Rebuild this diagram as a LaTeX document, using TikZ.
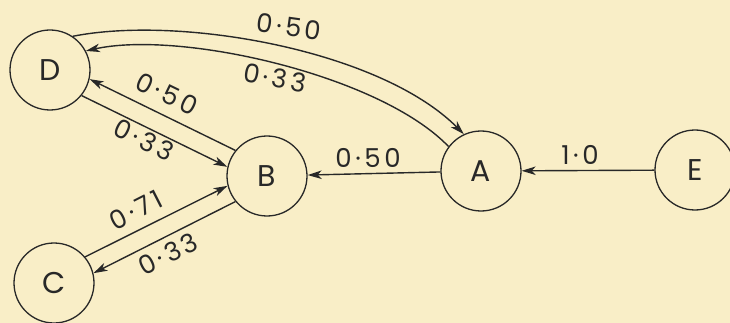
\documentclass[tikz,border=0pt]{standalone}
\usepackage{fontspec}
\setmainfont{Poppins}
\newfontfamily\labfont{Poppins}[LetterSpace=14]
\usetikzlibrary{arrows.meta}
\definecolor{bg}{RGB}{249,238,199}
\definecolor{ink}{RGB}{40,40,40}
\begin{document}
\begin{tikzpicture}[x=1pt,y=-1pt,
  state/.style={circle, draw=ink, line width=1.3pt, minimum size=80pt, inner sep=0pt, font=\fontsize{30}{30}\selectfont, text=ink},
  edge/.style={draw=ink, line width=1.4pt, -{Stealth[length=14pt,width=8.5pt,inset=4pt]}},
  lab/.style={font=\labfont\fontsize{26}{26}\selectfont, text=ink, inner sep=0pt}]
\fill[bg] (0,0) rectangle (730,323);
\useasboundingbox (0,0) rectangle (730,323);
\node[state] (D) at (50,70) {D};
\node[state] (B) at (267,176) {B};
\node[state] (A) at (481,171) {A};
\node[state] (E) at (695,170) {E};
\node[state] (C) at (54,283) {C};
\draw[edge] (E) -- (A);
\draw[edge] (A) -- (B);
\draw[edge] (D.56) .. controls (180,15) and (380,50) .. (A.115);
\draw[edge] (A.143) .. controls (380,75) and (180,30) .. (D.28);
\draw[edge] (B.141) -- (D.-13);
\draw[edge] (D.-39) -- (B.167);
\draw[edge] (C.40) -- (B.-166);
\draw[edge] (B.219) -- (C.14);
\node[lab, rotate=-8] (l1) at (289,27) {0·50};
\node[lab, rotate=-10] (l2) at (275,78) {0·33};
\node[lab, rotate=-26] (l3) at (167,94) {0·50};
\node[lab, rotate=-26] (l4) at (144,140) {0·33};
\node[lab] (l5) at (368,158) {0·50};
\node[lab] (l6) at (580,155) {1·0};
\node[lab, rotate=27] (l7) at (136,210) {0·71};
\node[lab, rotate=27] (l8) at (168,254) {0·33};
\end{tikzpicture}
\end{document}
